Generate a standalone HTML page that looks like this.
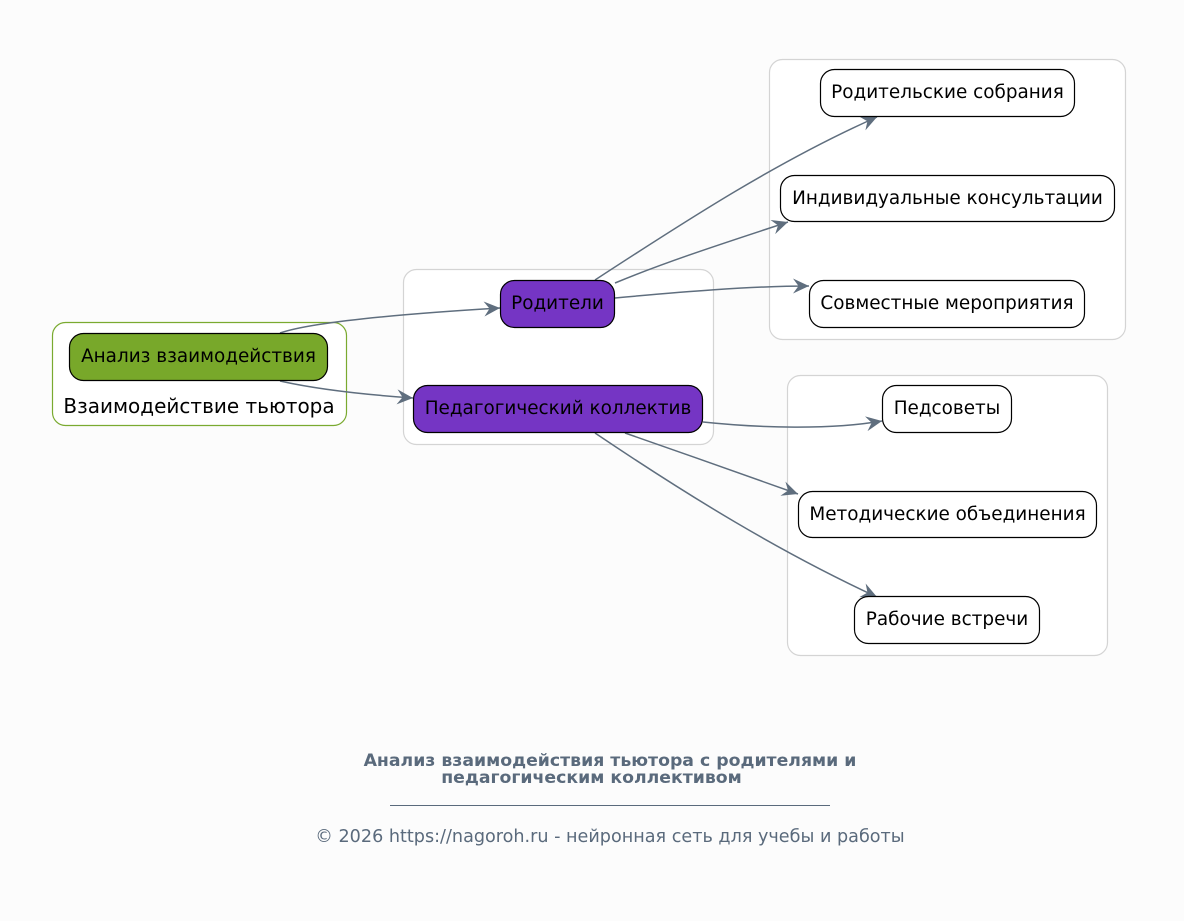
<!DOCTYPE html>
<html>
<head>
<meta charset="utf-8">
<style>
  html,body{margin:0;padding:0;background:#fcfcfc;}
  svg{display:block;}
  text{font-family:"DejaVu Sans","Liberation Sans",sans-serif;}
</style>
</head>
<body>
<svg width="1184" height="921" viewBox="0 0 1184 921" xmlns="http://www.w3.org/2000/svg">
  <defs>
    <marker id="ah" markerUnits="userSpaceOnUse" markerWidth="18" markerHeight="18" refX="16" refY="8" orient="auto">
      <path d="M0,0.5 L16,8 L0,15.5 L5.5,8 Z" fill="#5f6e7e"/>
    </marker>
  </defs>
  <rect x="0" y="0" width="1184" height="921" fill="#fcfcfc"/>

  <!-- clusters -->
  <rect x="52.5" y="322.5" width="294" height="103" rx="13" fill="#ffffff" stroke="#7aaa30" stroke-width="1.2"/>
  <rect x="403.5" y="269.5" width="310" height="175" rx="13" fill="#ffffff" stroke="#d4d4d4" stroke-width="1.2"/>
  <rect x="769.5" y="59.5" width="356" height="280" rx="13" fill="#ffffff" stroke="#d4d4d4" stroke-width="1.2"/>
  <rect x="787.5" y="375.5" width="320" height="280" rx="13" fill="#ffffff" stroke="#d4d4d4" stroke-width="1.2"/>

  <text x="199" y="413" font-size="20" text-anchor="middle" fill="#000">Взаимодействие тьютора</text>

  <!-- edges -->
  <g fill="none" stroke="#5f6e7e" stroke-width="1.5" marker-end="url(#ah)">
    <path d="M280,333 C312,322 400,314 500,308"/>
    <path d="M280,381 C320,390 370,395 413,398"/>
    <path d="M595,280 C690,218 780,160 877,117"/>
    <path d="M615,283 C670,260 740,238 788,222"/>
    <path d="M615,298 C680,292 750,286 809,286"/>
    <path d="M703,422 C760,428 830,430 882,421"/>
    <path d="M625,433 C680,452 750,477 798,494"/>
    <path d="M595,433 C690,497 780,552 877,597"/>
  </g>

  <!-- nodes -->
  <g stroke="#000" stroke-width="1.2">
    <rect x="69.5" y="333.5" width="258" height="47" rx="14" fill="#78a82a"/>
    <rect x="500.5" y="280.5" width="114" height="47" rx="14" fill="#7535c4"/>
    <rect x="413.5" y="385.5" width="289" height="47" rx="14" fill="#7535c4"/>
    <rect x="820.5" y="69.5" width="254" height="47" rx="14" fill="#ffffff"/>
    <rect x="780.5" y="175.5" width="334" height="46" rx="14" fill="#ffffff"/>
    <rect x="809.5" y="280.5" width="275" height="47" rx="14" fill="#ffffff"/>
    <rect x="882.5" y="385.5" width="129" height="47" rx="14" fill="#ffffff"/>
    <rect x="798.5" y="491.5" width="298" height="46" rx="14" fill="#ffffff"/>
    <rect x="854.5" y="596.5" width="185" height="47" rx="14" fill="#ffffff"/>
  </g>

  <g font-size="18.4" text-anchor="middle" fill="#000">
    <text x="198.5" y="362">Анализ взаимодействия</text>
    <text x="557.5" y="309">Родители</text>
    <text x="558" y="414">Педагогический коллектив</text>
    <text x="947.5" y="98">Родительские собрания</text>
    <text x="947.5" y="204">Индивидуальные консультации</text>
    <text x="947" y="309">Совместные мероприятия</text>
    <text x="947" y="414">Педсоветы</text>
    <text x="947.5" y="520">Методические объединения</text>
    <text x="947" y="625">Рабочие встречи</text>
  </g>

  <!-- footer -->
  <g fill="#5a6a7c" text-anchor="middle">
    <text x="610" y="766" font-size="17.3" font-weight="bold">Анализ взаимодействия тьютора с родителями и</text>
    <text x="591.5" y="783" font-size="17.3" font-weight="bold">педагогическим коллективом</text>
    <text x="610" y="842" font-size="17.6">© 2026 https://nagoroh.ru - нейронная сеть для учебы и работы</text>
  </g>
  <line x1="390" y1="805.5" x2="830" y2="805.5" stroke="#5a6a7c" stroke-width="1"/>
</svg>
</body>
</html>
